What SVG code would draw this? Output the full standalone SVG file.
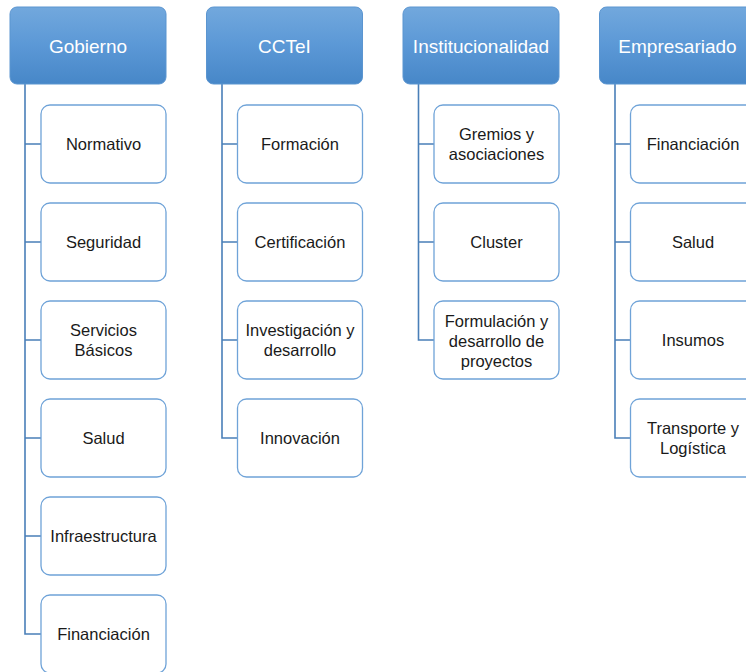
<svg xmlns="http://www.w3.org/2000/svg" width="746" height="672" viewBox="0 0 746 672">
<defs>
<linearGradient id="hg" x1="0" y1="0" x2="0" y2="1">
<stop offset="0" stop-color="#72a8dd"/>
<stop offset="0.5" stop-color="#5b98d6"/>
<stop offset="1" stop-color="#4787c8"/>
</linearGradient>
<style>
.h{fill:url(#hg);stroke:#5b95d0;stroke-width:1}
.c{fill:#ffffff;stroke:#6fa3d8;stroke-width:1.3}
.ht{font-family:"Liberation Sans",Arial,sans-serif;font-size:19px;fill:#ffffff;text-anchor:middle;dominant-baseline:central}
.ct{font-family:"Liberation Sans",Arial,sans-serif;font-size:16.5px;fill:#1a1a1a;text-anchor:middle;dominant-baseline:central}
.k{fill:none;stroke:#4a7fb8;stroke-width:1.6}
</style>
</defs>
<rect width="746" height="672" fill="#ffffff"/>
<g id="connectors">
<path class="k" d="M25 84 V634 H41 M25 144 H41 M25 242 H41 M25 340 H41 M25 438 H41 M25 536 H41"/>
<path class="k" d="M222 84 V438 H237.5 M222 144 H237.5 M222 242 H237.5 M222 340 H237.5"/>
<path class="k" d="M418.5 84 V340 H434 M418.5 144 H434 M418.5 242 H434"/>
<path class="k" d="M615 84 V438 H630.5 M615 144 H630.5 M615 242 H630.5 M615 340 H630.5"/>
</g>
<g id="gobierno"><rect class="h" x="10" y="7" width="156" height="77" rx="7"/><text class="ht" x="88" y="46">Gobierno</text></g>
<g id="cctei"><rect class="h" x="206.5" y="7" width="156" height="77" rx="7"/><text class="ht" x="284.5" y="46">CCTeI</text></g>
<g id="institucionalidad"><rect class="h" x="403" y="7" width="156" height="77" rx="7"/><text class="ht" x="481" y="46">Institucionalidad</text></g>
<g id="empresariado"><rect class="h" x="599.5" y="7" width="156" height="77" rx="7"/><text class="ht" x="677.5" y="46">Empresariado</text></g>

<g id="g-normativo"><rect class="c" x="41" y="105" width="125" height="78" rx="9"/><text class="ct" x="103.5" y="144">Normativo</text></g>
<g id="g-seguridad"><rect class="c" x="41" y="203" width="125" height="78" rx="9"/><text class="ct" x="103.5" y="242">Seguridad</text></g>
<g id="g-servicios"><rect class="c" x="41" y="301" width="125" height="78" rx="9"/><text class="ct" x="103.5" y="330">Servicios</text><text class="ct" x="103.5" y="350">Básicos</text></g>
<g id="g-salud"><rect class="c" x="41" y="399" width="125" height="78" rx="9"/><text class="ct" x="103.5" y="438">Salud</text></g>
<g id="g-infra"><rect class="c" x="41" y="497" width="125" height="78" rx="9"/><text class="ct" x="103.5" y="536">Infraestructura</text></g>
<g id="g-financiacion"><rect class="c" x="41" y="595" width="125" height="78" rx="9"/><text class="ct" x="103.5" y="634">Financiación</text></g>

<g id="c-formacion"><rect class="c" x="237.5" y="105" width="125" height="78" rx="9"/><text class="ct" x="300" y="144">Formación</text></g>
<g id="c-certificacion"><rect class="c" x="237.5" y="203" width="125" height="78" rx="9"/><text class="ct" x="300" y="242">Certificación</text></g>
<g id="c-investigacion"><rect class="c" x="237.5" y="301" width="125" height="78" rx="9"/><text class="ct" x="300" y="330">Investigación y</text><text class="ct" x="300" y="350">desarrollo</text></g>
<g id="c-innovacion"><rect class="c" x="237.5" y="399" width="125" height="78" rx="9"/><text class="ct" x="300" y="438">Innovación</text></g>

<g id="i-gremios"><rect class="c" x="434" y="105" width="125" height="78" rx="9"/><text class="ct" x="496.5" y="134">Gremios y</text><text class="ct" x="496.5" y="154">asociaciones</text></g>
<g id="i-cluster"><rect class="c" x="434" y="203" width="125" height="78" rx="9"/><text class="ct" x="496.5" y="242">Cluster</text></g>
<g id="i-formulacion"><rect class="c" x="434" y="301" width="125" height="78" rx="9"/><text class="ct" x="496.5" y="321">Formulación y</text><text class="ct" x="496.5" y="341">desarrollo de</text><text class="ct" x="496.5" y="361">proyectos</text></g>

<g id="e-financiacion"><rect class="c" x="630.5" y="105" width="125" height="78" rx="9"/><text class="ct" x="693" y="144">Financiación</text></g>
<g id="e-salud"><rect class="c" x="630.5" y="203" width="125" height="78" rx="9"/><text class="ct" x="693" y="242">Salud</text></g>
<g id="e-insumos"><rect class="c" x="630.5" y="301" width="125" height="78" rx="9"/><text class="ct" x="693" y="340">Insumos</text></g>
<g id="e-transporte"><rect class="c" x="630.5" y="399" width="125" height="78" rx="9"/><text class="ct" x="693" y="428">Transporte y</text><text class="ct" x="693" y="448">Logística</text></g>
</svg>
